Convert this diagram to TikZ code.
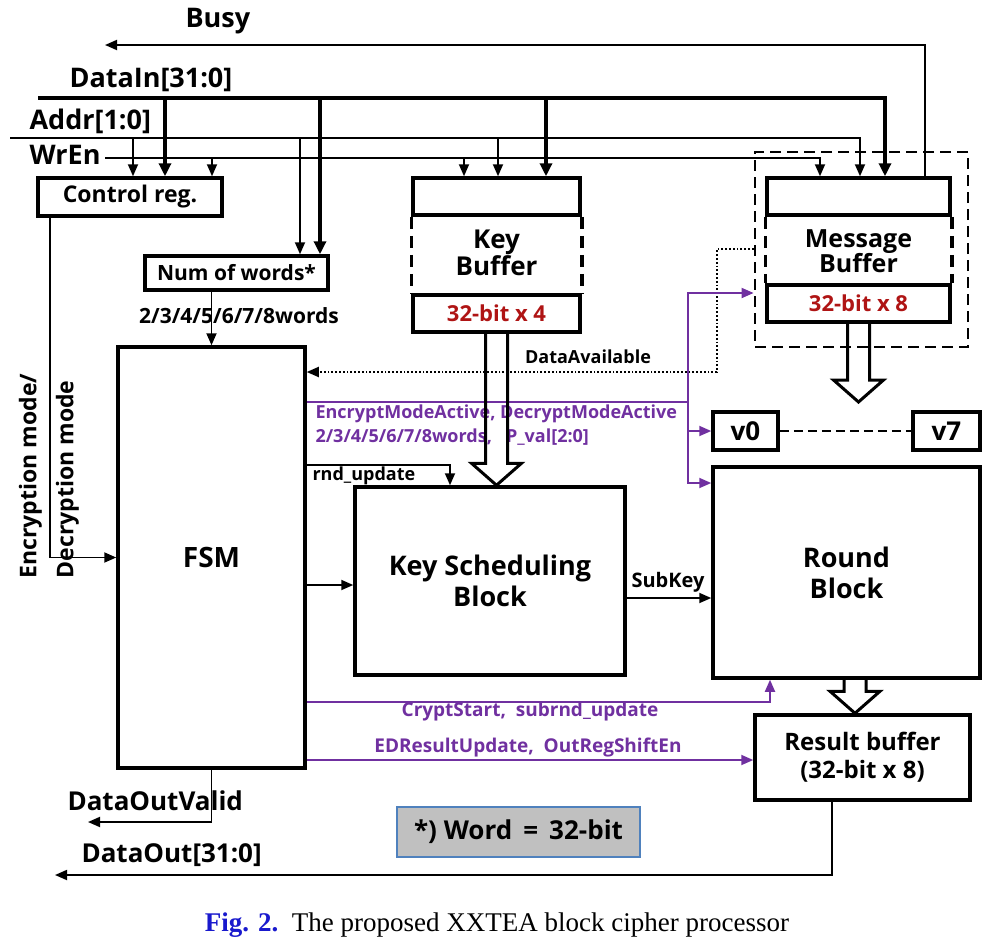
\documentclass[tikz,border=0pt]{standalone}
\usepackage{fontspec}
\setmainfont{Open Sans}
\newfontfamily\capfont{Liberation Serif}
\usetikzlibrary{arrows.meta,calc}
\definecolor{sigp}{RGB}{112,48,160}
\definecolor{bitr}{RGB}{175,20,20}
\definecolor{notef}{RGB}{192,192,192}
\definecolor{noted}{RGB}{79,129,189}
\definecolor{figb}{RGB}{25,25,205}
\newcommand{\fsz}[1]{\fontsize{#1}{\numexpr#1*5/4\relax}\selectfont\bfseries}
\newcommand{\SW}{11}
\newcommand{\HW}{25}
\newcommand{\HL}{22}
% wide hollow arrow, x taken from the first point
\newcommand{\wideA}[2]{%
  \draw[hollow] let \p1=(#1), \p2=(#2) in
    ({\x1-\SW pt},\y1) -- ({\x1-\SW pt},{\y2+\HL pt}) -- ({\x1-\HW pt},{\y2+\HL pt})
    -- (\x1,\y2) -- ({\x1+\HW pt},{\y2+\HL pt}) -- ({\x1+\SW pt},{\y2+\HL pt})
    -- ({\x1+\SW pt},\y1);}

\begin{document}
\begin{tikzpicture}[x=1pt, y=-1pt,
    blk/.style={draw=black, line width=3.5pt, inner sep=0pt, align=center},
    sig/.style={draw=black, line width=1.8pt, -{Triangle[length=12pt, width=10pt]}},
    bus/.style={draw=black, line width=4pt, -{Triangle[length=13pt, width=12pt]}},
    psig/.style={draw=sigp, line width=1.8pt},
    pa/.style={-{Triangle[length=12pt, width=10pt]}},
    hollow/.style={draw=black, line width=3pt, line join=miter},
    tag/.style={font=\fsz{27}},
    stag/.style={font=\fsz{18}},
  ]
  \useasboundingbox (0,0) rectangle (1002,945);

  %% ================= blocks =================
  \node[blk, minimum width=184, minimum height=38, font=\fsz{23}] (ctrl) at (130,197) {Control reg.};
  \node[blk, minimum width=183, minimum height=34, font=\fsz{21}] (nwords) at (236.5,273) {Num of words*};
  \node[blk, minimum width=187, minimum height=421, font=\fsz{28}] (fsm) at (211.5,557.5) {FSM};

  % key buffer: solid top and bottom slots, dashed sides between
  \node[blk, minimum width=167, minimum height=37] (kbtop) at (496.5,196.5) {};
  \node[blk, minimum width=167, minimum height=37, font=\fsz{22}, text=bitr] (kbbot) at (496.5,313.5) {32-bit x 4};
  \draw[line width=3.5pt, dash pattern=on 12pt off 7pt] (kbtop.south west) -- (kbbot.north west)
    (kbtop.south east) -- (kbbot.north east);
  \node[font=\fsz{26}, align=center] (kblbl) at (496.5,253) {Key\\[-6pt]Buffer};

  % message buffer, in its dashed frame
  \node[draw=black, line width=2.8pt, dash pattern=on 11pt off 6pt, minimum width=213, minimum height=195] (mbgrp) at (861.5,249.5) {};
  \node[blk, minimum width=183, minimum height=37] (mbtop) at (858.5,196.5) {};
  \node[blk, minimum width=183, minimum height=37, font=\fsz{22}, text=bitr] (mbbot) at (858.5,303.5) {32-bit x 8};
  \draw[line width=3.5pt, dash pattern=on 12pt off 7pt] (mbtop.south west) -- (mbbot.north west)
    (mbtop.south east) -- (mbbot.north east);
  \node[font=\fsz{25}, align=center] (mblbl) at (858.5,251) {Message\\[-6pt]Buffer};

  \node[blk, minimum width=65, minimum height=38, font=\fsz{26}] (v0) at (745.5,431) {v0};
  \node[blk, minimum width=67, minimum height=38, font=\fsz{26}] (v7) at (946.5,431) {v7};
  \node[blk, minimum width=267, minimum height=211, font=\fsz{27}] (rnd) at (846.5,572.5) {Round\\[-3pt]Block};
  \node[blk, minimum width=270, minimum height=188, font=\fsz{27}] (ksb) at (490,581) {Key Scheduling\\[-3pt]Block};
  \node[blk, minimum width=215, minimum height=85, font=\fsz{24}] (res) at (862.5,757.5) {Result buffer\\[-2pt](32-bit x 8)};
  \node[draw=noted, fill=notef, line width=1.5pt, minimum width=243, minimum height=50, font=\fsz{26}] (note) at (518.5,832) {*)~Word\,~=~\,32-bit};

  %% ================= input buses =================
  \node[tag, anchor=west] (busyT) at (182,21) {Busy};
  \node[tag, anchor=west] (dinT) at (66,80) {DataIn[31:0]};
  \node[tag, anchor=west] (adrT) at (26,121) {Addr[1:0]};
  \node[tag, anchor=west] (wrT) at (26,155) {WrEn};
  \coordinate (busyE) at (105,45);
  \coordinate (dinL) at (38,98);
  \coordinate (adrL) at (10,138);
  \coordinate (wrL) at (105,158);

  \draw[sig] (925,0 |- mbtop.north) |- (busyE);
  \draw[bus] (dinL) -| (885,0 |- mbtop.north);
  \draw[sig] (adrL) -| (860,0 |- mbtop.north);
  \draw[sig] (wrL) -| (820,0 |- mbtop.north);

  \foreach \x/\n in {165/ctrl, 320/nwords, 546/kbtop}
    \draw[bus] (\x,98) -- (\x,0 |- \n.north);
  \foreach \x/\n in {133/ctrl, 300/nwords, 498/kbtop}
    \draw[sig] (\x,138) -- (\x,0 |- \n.north);
  \foreach \x/\n in {212/ctrl, 464/kbtop}
    \draw[sig] (\x,158) -- (\x,0 |- \n.north);

  %% ================= FSM side =================
  \draw[sig] (fsm.north |- nwords.south) -- (fsm.north);
  \node[font=\fsz{21}] (nwT) at (239,316) {2/3/4/5/6/7/8words};
  \draw[sig] (50,0 |- ctrl.south) |- (fsm.west);
  \node[rotate=90, align=left, font=\fsz{23}] (modeT) at (49,476) {Encryption mode/\\[8pt]Decryption mode};

  \coordinate (dovE) at (88,822);
  \coordinate (doE) at (55,875);
  \draw[sig] (fsm.south) |- (dovE);
  \node[font=\fsz{26}, anchor=west] (dovT) at (64,801) {DataOutValid};
  \draw[sig] (832,0 |- res.south) |- (doE);
  \node[font=\fsz{26}, anchor=west] (doT) at (78,855) {DataOut[31:0]};

  %% ================= control signals =================
  \coordinate (daC) at (717,372);
  \draw[sig, dotted] (mbgrp.west |- 0,249) -| (daC) -- (daC -| fsm.east);
  \node[stag] (daT) at (588,357) {DataAvailable};

  \draw[sig] (fsm.east |- 0,465) -| (450,0 |- ksb.north);
  \node[stag, anchor=west] (rndT) at (309,476) {rnd\_update};
  \draw[sig] (fsm.east |- 0,585) -- (ksb.west |- 0,585);
  \draw[sig] (ksb.east |- 0,598) -- (rnd.west |- 0,598);
  \node[font=\fsz{20}] (skT) at (668,582) {SubKey};
  \draw[line width=2.5pt, dash pattern=on 9pt off 5pt] (v0) -- (v7);

  % mode, word count and P value go to the buffer, v-registers and round block
  \coordinate (pv) at (688,402);
  \draw[psig] (fsm.east |- pv) -- (pv);
  \draw[psig, pa] (pv) |- (mbgrp.west |- 0,293);
  \draw[psig, pa] (pv) |- (v0.west);
  \draw[psig, pa] (pv) |- (rnd.west |- 0,483);
  \node[stag, text=sigp, anchor=west] (modeP) at (312,414) {EncryptModeActive, DecryptModeActive};
  \node[stag, text=sigp, anchor=west] (wordP) at (312,437) {2/3/4/5/6/7/8words,~~~P\_val[2:0]};

  \draw[psig, pa] (fsm.east |- 0,702) -| (770,0 |- rnd.south);
  \node[font=\fsz{19}, text=sigp] (csT) at (530,712) {CryptStart,~~subrnd\_update};
  \draw[psig, pa] (fsm.east |- 0,760) -- (res.west |- 0,760);
  \node[font=\fsz{19}, text=sigp] (edT) at (528,748) {EDResultUpdate,~~OutRegShiftEn};

  %% ================= data paths =================
  \coordinate (mbtip) at (858.5,402);
  \coordinate (rndout) at (855,0 |- rnd.south);
  \coordinate (restop) at (855,0 |- res.north);
  \wideA{kbbot.south}{ksb.north}
  \wideA{mbbot.south}{mbtip}
  \wideA{rndout}{restop}

  \node[font=\capfont\fontsize{27}{32}\selectfont] (cap) at (497,925)
    {{\color{figb}\bfseries Fig. 2.}\hspace{0.5em}The proposed XXTEA block cipher processor};
\end{tikzpicture}
\end{document}
